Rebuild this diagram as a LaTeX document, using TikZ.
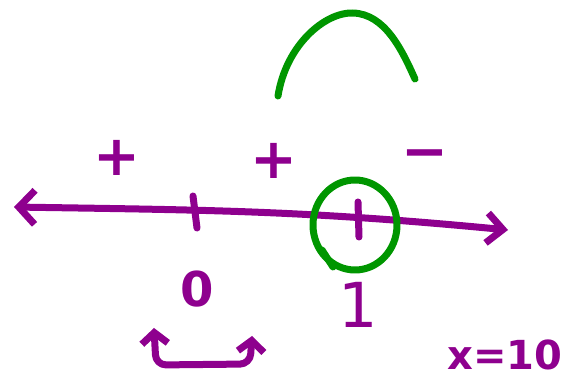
\documentclass[tikz,border=0pt]{standalone}
\usepackage{fontspec}
\setmainfont{DejaVu Sans}
\usetikzlibrary{arrows.meta,positioning}
\definecolor{penpurple}{RGB}{142,0,142}
\definecolor{pengreen}{RGB}{0,150,0}

\begin{document}
\begin{tikzpicture}[x=1pt,y=-1pt,
  ink/.style={line width=7pt,line cap=round,line join=round,draw=penpurple},
  greenink/.style={ink,draw=pengreen},
  barbs/.style={{Straight Barb[length=16pt,width=34pt]}-{Straight Barb[length=16pt,width=30pt]}},
  smallbarbs/.style={{Straight Barb[length=11pt,width=26pt]}-{Straight Barb[length=11pt,width=26pt]}},
  sign/.style={font=\fontsize{56}{56}\selectfont\bfseries,text=penpurple,inner sep=0pt},
  numlabel/.style={font=\fontsize{48}{48}\selectfont\bfseries,text=penpurple,inner sep=0pt}
]
  \useasboundingbox (0,0) rectangle (566,382);

  % number line
  \coordinate (lineleft) at (14,207);
  \coordinate (lineright) at (508,230);
  \draw[ink,barbs] (lineleft) .. controls (200,210) and (300,210) .. (lineright);

  % ticks
  \draw[ink] (193,196) -- (197,228);
  \draw[ink] (358,202) -- (359,237);

  % signs
  \node[sign] (plusa) at (117,158) {+};
  \node[sign] (plusb) at (274,161) {+};
  \node[sign] (minus) at (425,160) {−};

  % labels under the line
  \node[numlabel] (zero) at (197,289) {0};
  \node[numlabel,font=\fontsize{62}{62}\selectfont] (one) at (358,305) {1};
  \node[numlabel,font=\fontsize{40}{40}\selectfont\bfseries] (xval) at (505,355) {x=10};

  % root circled and the parabola cap
  \draw[greenink] (355,225) ellipse (42pt and 45pt);
  \draw[greenink] (322,250) -- (333,267);
  \draw[greenink] (278,96) .. controls (286,45) and (325,12) .. (353,13)
    .. controls (385,14) and (402,50) .. (415,79);

  % bracket under zero
  \coordinate (brleft) at (154,328);
  \coordinate (brright) at (252,336);
  \draw[ink,rounded corners=10pt,smallbarbs] (brleft) -- (156,365) -- (250,364) -- (brright);
\end{tikzpicture}
\end{document}
